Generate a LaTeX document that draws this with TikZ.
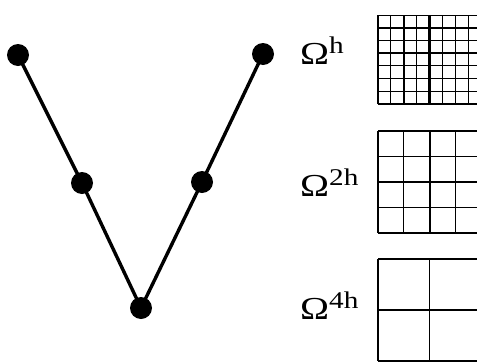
\documentclass[tikz,border=0pt]{standalone}
\usepackage{fontspec}
\setmainfont{Liberation Serif}
\usepackage{graphicx}
\usetikzlibrary{positioning}
\tikzset{
  dot/.style    = {circle, fill=black, inner sep=0pt, minimum size=22pt},
  leg/.style    = {line width=3.4pt},
  lbl/.style    = {inner sep=0pt, anchor=base west, font=\fontsize{32}{32}\selectfont},
  fine/.style   = {line width=1.1pt},
  medium/.style = {line width=1.6pt},
  coarse/.style = {line width=2.4pt},
}
\newcommand{\omlabel}[1]{\scalebox{1.22}[1]{Ω\raisebox{11pt}{\fontsize{24}{24}\selectfont #1}}}

\begin{document}
\begin{tikzpicture}[x=1pt, y=-1pt]
  \useasboundingbox (0,0) rectangle (477,362);

  % ---- V-cycle ----
  \node[dot] (top1) at (18,55)   {};
  \node[dot] (mid1) at (82,183)  {};
  \node[dot] (bot)  at (141,308) {};
  \node[dot] (mid2) at (202,182) {};
  \node[dot] (top2) at (263,54)  {};
  \draw[leg] (top1.center) -- (mid1.center) -- (bot.center) -- (mid2.center) -- (top2.center);

  % ---- level labels ----
  \node[lbl] (omh)  at (300,64)  {\omlabel{h}};
  \node[lbl] (om2h) at (300,196) {\omlabel{2h}};
  \node[lbl] (om4h) at (300,319) {\omlabel{4h}};

  \begin{scope}
    \clip (0,0) rectangle (477,362);
    % ---- fine grid ----
    \foreach \i in {0,...,8} \draw[fine] ({378+12.9*\i},15) -- ++(0,89);
    \foreach \j in {0,...,7} \draw[fine] (378,{104-12.7*\j}) -- ++(104,0);
    \foreach \i in {0,2,...,8} \draw[medium] ({378+12.9*\i},15) -- ++(0,89);
    \foreach \j in {0,2,6} \draw[medium] (378,{104-12.7*\j}) -- ++(104,0);
    \foreach \i in {0,4,8} \draw[coarse] ({378+12.9*\i},15) -- ++(0,89);
    \foreach \j in {0,4} \draw[coarse] (378,{104-12.7*\j}) -- ++(104,0);

    % ---- 2h grid ----
    \foreach \i in {0,...,4} \draw[fine] ({378+25.9*\i},131) -- ++(0,102);
    \foreach \j in {0,...,4} \draw[fine] (378,{233-25.5*\j}) -- ++(104,0);
    \foreach \i in {0,2,4} \draw[medium] ({378+25.9*\i},131) -- ++(0,102);
    \foreach \j in {0,2} \draw[medium] (378,{233-25.5*\j}) -- ++(104,0);

    % ---- 4h grid ----
    \foreach \i in {0,1,2} \draw[medium] ({378+51.5*\i},259) -- ++(0,102);
    \foreach \j in {0,1,2} \draw[medium] (378,{361-51*\j}) -- ++(104,0);
  \end{scope}
\end{tikzpicture}
\end{document}
